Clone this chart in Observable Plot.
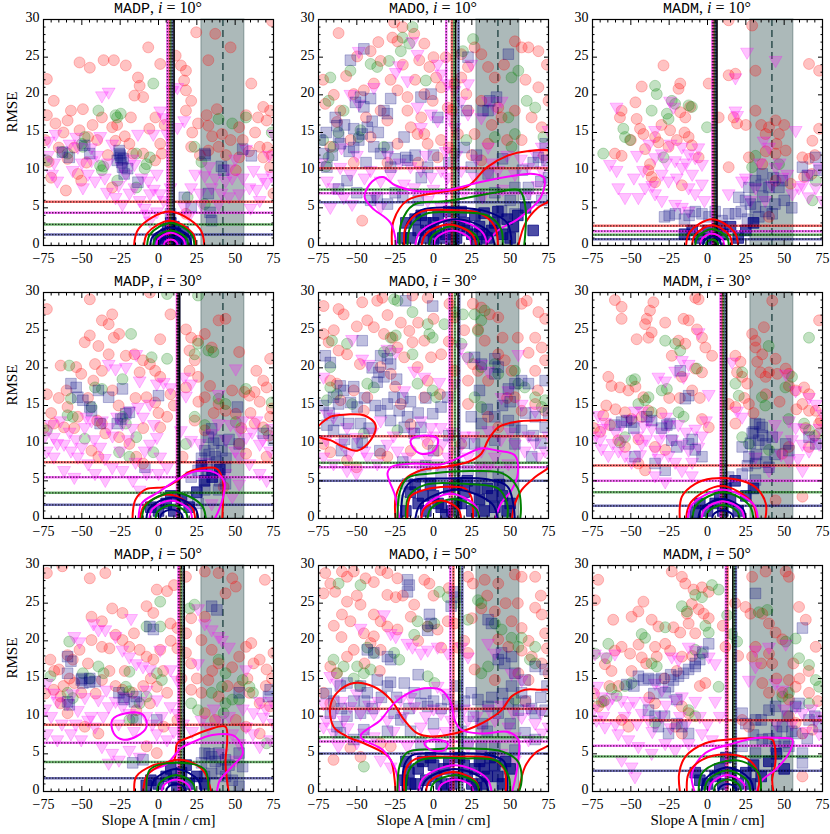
<!DOCTYPE html>
<html><head><meta charset="utf-8">
<script src="https://cdn.jsdelivr.net/npm/d3@7"></script>
<script src="https://cdn.jsdelivr.net/npm/@observablehq/plot@0.6"></script>
<style>
html,body{margin:0;padding:0;background:#fff;}
#fig{position:relative;width:830px;height:834px;overflow:hidden;font-family:'Liberation Serif','DejaVu Serif',serif;}
.ttl{position:absolute;text-align:center;font-size:16px;line-height:18px;white-space:nowrap;color:#000;font-family:'Liberation Serif','DejaVu Serif',serif;}
.ttl .tt{font-family:'Liberation Mono','DejaVu Sans Mono',monospace;font-size:15px;}
</style></head><body><div id="fig"></div>
<script>
// ---------- categories & ticks ----------
const methods = ["MADP", "MADO", "MADM"];
const incls = [10, 30, 50];
const seriesNames = ["red", "magenta", "green", "navy"];
const xDomain = [-75, 75];
const yDomain = [0, 30];
const xMajor = [-75, -50, -25, 0, 25, 50, 75];
const xMinor = [-70, -65, -60, -55, -45, -40, -35, -30, -20, -15, -10, -5, 5, 10, 15, 20, 30, 35, 40, 45, 55, 60, 65, 70];
const yMajor = [0, 5, 10, 15, 20, 25, 30];
const yMinor = [1, 2, 3, 4, 6, 7, 8, 9, 11, 12, 13, 14, 16, 17, 18, 19, 21, 22, 23, 24, 26, 27, 28, 29];
const bandRange = [28, 56];
const bandCenter = 42;

// ---------- reference lines (order: red, magenta, green, navy) ----------
const hl_MADP10 = [5.8, 4.35, 2.8, 1.45];
const hl_MADO10 = [10.26, 6.95, 7.43, 5.75];
const hl_MADM10 = [2.61, 1.9, 1.42, 0.84];
const hl_MADP30 = [7.47, 5.49, 3.41, 1.81];
const hl_MADO30 = [10.93, 6.81, 7.39, 5.0];
const hl_MADM30 = [7.04, 5.0, 3.5, 1.68];
const hl_MADP50 = [8.85, 6.46, 3.9, 1.77];
const hl_MADO50 = [10.97, 6.64, 7.21, 5.04];
const hl_MADM50 = [9.47, 6.06, 4.65, 2.75];

const vl_MADP10 = [7.2, 5.8, 8.2, 9.3];
const vl_MADO10 = [12, 8.3, 13.5, 16.3];
const vl_MADM10 = [4, 3.2, 4.8, 5.6];
const vl_MADP30 = [12.5, 12, 13, 13.5];
const vl_MADO30 = [12, 10.5, 14, 16.8];
const vl_MADM30 = [9.5, 8.5, 10.5, 11.8];
const vl_MADP50 = [14, 13, 15, 16.5];
const vl_MADO50 = [13, 11, 17, 18.8];
const vl_MADM50 = [13, 12, 17.5, 18.5];
const vBlack = {MADP10: 10.2, MADO10: 14.5, MADM10: 6.2, MADP30: 13.8, MADO30: 16, MADM30: 12.5, MADP50: 16.8, MADO50: 16.5, MADM50: 16.5};

// ---------- scatter: MADP 10 ----------
const red_MADP10 = [[-72.8,22.1],[-72.8,17.3],[-71.6,11.1],[-51.5,24.3],[-44.8,23.6],[-35.8,24.6],[-29.1,24.6],[-21.3,23.9],[-13.4,22.3],[-12.3,21.2],[-6.7,26.3],[-15.7,19.9],[-10,19.7],[1.1,24.1],[11.2,25.2],[14.6,23.9],[17.9,23.2],[16.7,21.9],[17.9,20.6],[24.6,28.3],[32.5,24.6],[37,28.1],[47,26.3],[60.5,21.5],[68.3,18.4],[72.8,17.9],[57.1,17.3],[31.4,17.3],[25.8,16.2],[32.5,15.9],[38.1,18.1],[52.6,15.7],[64.9,17],[75,6.9],[68.3,11.7],[66,13.1],[-68.3,19.2],[-67.2,16.2],[-59.3,16.6],[-57.1,17.9],[-49.3,18.1],[-51.5,15.3],[-45.9,14.4],[-59.3,11.5],[-52.6,9.5],[-50.4,8.6],[-60.4,7.3],[-36.9,17],[-30.2,15.7],[-28,13.9],[-19,13.5],[-16.8,12.2],[-10,12.2],[1.1,13.5],[2.2,12.2],[-2.2,11.3],[21.3,19.2],[17.9,17.9],[52.6,11.7],[50.4,10],[21.3,13.1],[32.5,12.6],[39.2,13.1],[41.4,14.8],[70.5,16.6],[72.8,10.4],[-30.2,7.7],[17.9,4.2],[74,29.8],[-74,14],[-70,9],[-65,13],[-62,15],[-55,13],[-47,11],[-43,16],[-40,14],[-33,12],[-27,16],[-22,14.5],[-18,17],[-6,15.5],[-2,17],[4,16],[22,15],[27,12],[35,14.5],[44,12],[47,14],[55,14],[59,12.5],[63,15],[71,13],[74,12]];
const green_MADP10 = [[-3.4,21.5],[-28,17.3],[-24.6,17.5],[-39.2,17.9],[-59.3,12.2],[-62.7,12.4],[-72.8,11.3],[-48.1,14.4],[-49.3,13.1],[-38.1,10.6],[-36.9,10],[-26.9,8.6],[-14.5,12.2],[-9,10.2],[-7.8,10.8],[-14.5,7.7],[28,11.1],[23.5,13.1],[39.2,16.8],[57.1,17],[48.1,16.2],[73.9,15],[30.2,5.5],[19,6.4],[-5.6,11.7],[-50,13.5],[-36,10.5],[-27,17]];
const magenta_MADP10 = [[-32.5,20.4],[-36.9,19.9],[-3.4,14.8],[12.3,21],[9,20.6],[1.1,17.9],[-71.6,13.9],[-67.2,14.8],[-52.6,13.1],[-53.7,14.4],[-66,8.6],[-69.4,9.5],[-49.3,7.7],[-41.4,8.6],[-33.6,7.1],[-28,6.4],[-21.3,9.5],[-15.7,7.7],[-12.3,6],[-6.7,8.6],[-5.6,6.9],[-1.1,9.5],[3.4,17],[5.6,14.8],[12.3,15.7],[16.8,16.6],[-7.8,4.2],[-5.6,3.3],[3.4,6],[21.3,7.7],[30.2,9.3],[34.7,7.7],[43.7,8.6],[52.6,6.9],[59.3,7.7],[66,6],[73.9,9.3],[70.5,8.4],[45.9,10.2],[39.2,5.5],[57.1,12.8],[16.8,5.1],[28,5.5],[7.8,7.7],[1.1,6.9],[-23.5,5.5],[-43.7,11.3],[-30.2,13.5],[-15.7,10.8],[-13.4,14.8],[75,14.8],[-72,12],[-68,11],[-63,12.5],[-58,13.5],[-56,10],[-50,11],[-46,9.5],[-44,13],[-40,12],[-38,14.5],[-35,9],[-33,11],[-26,8],[-24,10.5],[-19,7],[-17,11.5],[-11,9],[-9,5],[-3,7.5],[-1,4.5],[24,9.5],[27,7],[33,10.5],[37,9],[41,7],[48,9],[50,11.5],[55,9],[62,10],[64,7.5],[68,9],[72,12],[46,6.5],[60,5],[20,4]];
const navy_MADP10 = [[-62.7,12.4],[-58.2,11.7],[-48.1,13.3],[-44.8,12.2],[-25.7,12.6],[-24.6,11.7],[-26.9,11.3],[-23.5,10.4],[-20.1,10.2],[-22.4,9.5],[-13.4,8.4],[30.2,12.2],[42.5,10],[54.9,12.8],[60.5,11.9],[16.8,6.4],[21.3,5.1],[32.5,6.9],[33.6,4.4],[34.7,3.3],[7.8,4.2],[-25.5,12.2],[-24,11],[-25,12],[-23,11.5],[30.5,12],[41,10.5]];
const core_MADP10 = [[2,1],[5,1.5],[8,0.8],[11,1.6],[14,1],[6,2.2],[10,2.5],[16,1.8],[0,0.7],[18,0.6],[12,0.4],[8,3]];

// ---------- scatter: MADO 10 ----------
const red_MADO10 = [[-61.9,28.2],[-49.8,25.1],[-41,25.8],[-34.5,24.5],[-26.8,27.6],[-23.5,27.1],[-25.7,29.6],[-20.2,29],[-12.6,28.1],[-6,26.8],[-9.3,24.6],[-2.7,23.7],[1.7,22.3],[5,21],[-0.5,19.2],[-6,20.1],[-17,19.7],[-23.5,20.6],[-38.9,21.5],[-45.4,20.6],[-52,20.1],[-60.8,17.9],[-63,16.4],[-70.6,18.8],[-34.5,17.9],[-30.1,16.6],[-14.8,15.7],[-10.4,14.8],[-6,14.8],[-3.8,13.5],[2.7,11.7],[13.7,21.5],[18.1,22.3],[21.4,20.1],[22.5,23.7],[26.8,26.3],[31.2,25.4],[35.6,23.7],[40,22.3],[42.2,18.3],[44.4,17],[53.1,17.9],[53.1,27.1],[57.5,26.3],[61.9,26.3],[68.4,25.8],[68.4,21],[57.5,14],[70.6,15.7],[75,19.2],[-46.5,3.3],[22.5,17.9],[9.3,18.3],[15.9,14.8],[26.8,14.8],[35.6,13.5],[31.2,11.3],[4.9,14],[-23.5,13.5],[-41,14.4],[-54.2,14],[-67.3,13.1],[-17,17.9],[31.2,19.2],[18.1,25.4],[-72,22],[-65,20],[-57,22.5],[-44,17],[-36,27],[-28,22],[-20,24],[-12,22],[-8,17],[0,25],[8,25],[12,18],[25,12],[38,16],[46,24],[48,14],[60,22],[64,17],[72,12],[74,24],[-52,11],[-30,11],[-10,11],[10,13]];
const green_MADO10 = [[-68.4,19.2],[-67.3,22.3],[-54.2,23.2],[-41,24.1],[-36.7,23.7],[-20.2,27.6],[-15.8,26.8],[-13.7,29],[-21.3,25.8],[-29,24.5],[-5,21.9],[25.8,27.4],[19.2,25.8],[55.3,23.2],[50.9,22.3],[60.8,19.2],[66.3,18.3],[71.7,14.4],[53.1,14.8],[40,14.4],[48.8,17],[-58.6,17.9],[-47.6,15.3],[-48.7,14.4],[-68.4,11.7],[-65.2,13.1],[-32.3,13.1],[21.4,14],[13.7,12.2],[50.9,13.1],[-62,15],[-72,14],[-70,10.5]];
const magenta_MADO10 = [[-48.7,25.8],[-54.2,20.1],[-48.7,18.8],[-38.9,21],[-24.6,23],[-17,21.9],[-22.4,23.9],[-13.7,27.1],[-10.4,25.4],[2.8,24.1],[5,22.8],[9.3,21.5],[13.7,20.6],[22.5,21.5],[24.6,24.1],[18.1,19.2],[22.5,17.5],[-1.6,17.5],[2.7,16.6],[11.5,17],[13.7,15.7],[-8.2,15.7],[-10.4,18.4],[35.6,19.2],[40,18.3],[31.2,17],[44.4,19.2],[35.6,13.1],[66.3,12.2],[70.6,13.1],[75,15.3],[-60.8,10.4],[-54.2,9.5],[-69.5,8.6],[-65.2,7.7],[-58.6,6.4],[-53.1,5.5],[-41,10],[-34.5,8.6],[-27.9,9.5],[-19.2,8.2],[-12.6,7.7],[-8.2,10],[-1.6,9.1],[5,10],[9.3,9.1],[18.1,10],[26.8,9.1],[35.6,9.5],[42.2,10],[53.1,9.5],[61.9,10.4],[70.6,10],[-67.3,5.1],[-34.5,5.1],[-3.8,6],[5,5.1],[-73,11],[-60,13],[-50,12],[-45,9],[-38,6.5],[-30,12],[-22,11],[-15,10.5],[-5,12],[0,7.5],[8,12.5],[15,12],[20,7],[28,11.5],[32,6.5],[38,11],[45,7.5],[48,12],[57,11.5],[62,7],[68,8],[72,11.5]];
const navy_MADO10 = [[-54.2,24.6],[-45.4,26.1],[-47.6,19.7],[-45.4,18.4],[-50.9,19],[-32.3,17.9],[-30.1,17.5],[-41,19.5],[-27.9,19.5],[-64.1,17],[-63,15.9],[-60.8,13.5],[-61.9,14.4],[-48.7,14],[-46.5,14.8],[-52,15.5],[-43.2,15.7],[-19.2,14.4],[-18.1,11.7],[-38.9,13.1],[-34.5,12.2],[-8.2,19.7],[-1.6,20.1],[2.8,17],[21.4,17.9],[22.5,25],[48.8,25.4],[32.3,17.9],[35.6,17.9],[36.7,19.2],[41.1,19.7],[72.8,13.5],[68.4,11.7],[73.9,11.3],[-71.7,12.2],[-69.5,10.4],[-27.9,10.4],[-17,11.3],[-3.8,10.4],[24.6,10.4],[35.6,9.5],[53.1,7.7],[61.9,7.7],[-41,6],[-36.7,6.4],[44.4,4.6],[53.1,4.2],[70.6,6],[-56.4,8.6],[-30,5.5],[-20,6.5],[50,6],[60,6.8],[-74,14],[-70,15],[-66,12],[-58,16],[-55,12.5],[-52,13],[-44,11],[-40,16.5],[-36,15],[-30,13],[-25,11.5],[-12,12],[-8,9],[0,12],[10,11],[20,13],[28,12],[45,11.5],[58,10],[65,11],[70,8.5],[75,9],[-62,7.5],[-50,7],[-25,7],[-10,6],[30,6.5],[40,7]];
const core_MADO10 = [[-15,1],[-10,2],[-5,1],[0,3],[5,1],[10,2.5],[15,1],[20,3],[25,1.5],[30,2.5],[35,1],[40,3],[45,1.5],[-8,4],[18,4.5],[33,4.3],[48,3.5],[0,0.5],[28,0.5],[12,0.8],[-18,3],[55,4],[60,5],[65,2],[-20,1],[-12,3.5],[-2,2],[3,4],[8,1.5],[22,2],[27,4],[38,2],[42,4.5],[50,1],[52,2.5],[2,1.8],[17,2.5],[32,1.5],[-5,3],[10,4.5]];

// ---------- scatter: MADM 10 ----------
const red_MADM10 = [[-28.7,23.9],[-42.9,21.1],[-17.8,21.5],[-18.9,20.8],[-56,17.9],[-57.1,17],[-46.2,16.8],[-44,15.5],[-41.8,14.8],[-34.2,14.4],[-24.4,15.3],[-17.8,17.7],[-14.5,17],[-11.3,18.4],[-12.3,14.4],[-60.4,12.2],[-56,11.9],[-40.7,12.8],[-32,13.7],[-25.4,13.1],[-38.5,10],[-36.4,9.1],[-34.2,8.4],[-37.5,10.8],[-16.7,8],[-10.2,13.3],[-5.8,11.7],[13.8,29.9],[29.1,29.2],[13.8,22.6],[18.2,22.8],[17.1,17],[19.3,16.2],[13.8,10.4],[37.9,14.8],[40.1,15.7],[31.3,17.9],[27,11.7],[35.7,10.8],[44.4,16.6],[46.6,14.8],[51,12.6],[44.4,12.2],[44.4,8.6],[54.2,8.2],[61.9,11.7],[66.2,11.5],[63,9.1],[66.2,24.1],[72.8,23.2],[72.8,15.5],[68.4,13.9],[40.1,3.8],[31.3,23.2],[7.3,17],[0.8,21.5],[-50,14],[-47,19],[-30,16],[-20,14],[-15,15],[25,16],[35,16],[45,13.5],[50,16],[70,12],[68,9.5],[38,12.5]];
const green_MADM10 = [[-68,12.2],[-54.9,15.5],[-53.8,14.4],[-50.5,14],[-34.2,21.2],[-33.1,20.1],[-36.4,17.9],[-26.5,17.5],[-25.4,16.8],[-28.7,11.7],[-12.3,18.6],[-10.2,18.4],[-0.3,15.7],[29.1,10.4],[31.3,11.9],[46.6,10.8],[70.6,8.6],[68.4,6],[-21.1,18.8],[-23.3,19.2]];
const magenta_MADM10 = [[-59.3,18.4],[-63.6,10.8],[-59.3,10],[-58.2,7.7],[-53.8,6.4],[-45.1,6.4],[-40.7,7.7],[-34.2,11.7],[-29.8,12.2],[-24.4,19.2],[-22.2,18.4],[-34.2,15.3],[-16.7,13.1],[-12.3,12.2],[-8,11.7],[-3.6,10.8],[-21.1,11.3],[-16.7,10.4],[-29.8,9.5],[-25.4,8.6],[-34.2,6.9],[-29.8,6],[-21.1,5.5],[-16.7,5.1],[-12.3,7.7],[-8,6.9],[-3.6,8.2],[-12.3,4.6],[18.2,17.9],[19.3,17.3],[18.2,22.3],[25.8,25.7],[44.4,24.6],[57.5,15.3],[36.6,13.9],[40.1,13.1],[44.4,10.4],[48.8,9.1],[55.3,6.9],[59.5,7.7],[37.7,6],[31.3,7.7],[66.2,9.5],[70.6,7.7],[72.8,10.4],[75,6],[13.8,6.9],[22.5,8.6],[-48,9],[-46,12],[-42,10],[-38,13.5],[-36,8],[-27,11],[-24,13.5],[-20,9],[-14,11],[-10,9.5],[-6,13],[-2,6],[25,9],[28,6],[34,11],[42,8],[47,11],[52,9.5],[62,8],[66,6.5]];
const navy_MADM10 = [[-28,3.8],[-21,4.2],[-12,4],[-3.6,4.2],[1,3.8],[9.5,3.3],[18.2,4.2],[24.8,6],[27,7.7],[20.4,6.4],[31.3,8.6],[35.7,9.5],[40.1,7.7],[46.6,7.7],[48.8,8.6],[61.9,10.4],[65.1,9.3],[70.6,11.7],[72.8,10],[33.5,3.8],[42.2,4.2],[13.8,4.2],[31.3,5.1],[-25,4],[-15,3.5],[-8,4.5],[5,4.5],[22,4.5],[28,5.5],[36,6.5],[38,4.5],[44,5.5],[50,6],[55,5],[26,3.5],[35,8],[43,9]];
const core_MADM10 = [[-5,1],[0,2],[5,1],[-10,2],[10,1.5],[15,2.5],[20,1],[25,2],[-15,1.5],[30,3],[3,0.5],[8,2.5]];

// ---------- scatter: MADP 30 ----------
const red_MADP30 = [[-72.8,27.8],[-44.8,29.1],[-36.9,26.3],[-30.2,27.1],[-32.5,25.8],[-44.8,24.3],[-48.1,23.4],[-29.1,24],[-25.7,24.5],[-39.2,22.9],[-41.4,20.5],[-63.8,20.3],[-53.7,20.1],[-50.4,19.2],[-42.5,18.3],[-36.9,19.6],[-32.5,21.8],[-21.3,21.6],[-15.7,21.8],[-10.1,21],[-5.6,20.5],[-12.3,19.4],[-2.2,19.6],[1.1,18.8],[-7.8,16.1],[-2.2,15.4],[7.8,16.5],[-5.6,30],[1.1,23.8],[7.8,27.1],[17.9,25.1],[21.3,24],[25.8,23.6],[34.7,22.7],[30.2,24.5],[39.2,26.3],[43.7,26.5],[20.2,22.3],[23.6,21],[20.2,19.6],[25.8,18.8],[17.9,17.4],[33.6,17.6],[30.2,16.1],[39.2,15.2],[43.7,14.3],[50.4,13.9],[52.6,22.1],[55.9,16.8],[59.3,16.3],[63.8,19.6],[68.3,18.3],[62.7,16.8],[70.5,17.4],[72.8,21.2],[73.9,14.6],[72.8,13.5],[62.7,12.6],[68.3,12.1],[-68.3,12.6],[-61.6,12.1],[-72.8,16.5],[-59.3,14.8],[-52.6,13.5],[-36.9,12.6],[-34.7,11.3],[-43.7,9],[-39.2,8.2],[-25.7,10.8],[-19,9.9],[-14.5,8.2],[-10.1,7.3],[1.1,12.1],[5.6,13.5],[23.6,13],[30.2,11.7],[52.6,9.9],[57.1,8.6],[70.5,8.2],[42.5,4.2],[15.7,8.2],[-75,12],[-70,14],[-65,16],[-60,17],[-55,12],[-46,16],[-40,13],[-30,17],[-26,15],[-15,16],[-10,12],[0,14],[10,15],[26,15.5],[36,14],[48,17],[54,12],[60,14],[66,15.5],[72,11]];
const green_MADP30 = [[5.6,29.8],[25.8,29.6],[-17.9,24.5],[-58.2,20.3],[-4.5,21.4],[5.6,21.2],[23.6,21.8],[32.5,22.3],[35.8,22.1],[25.8,23.2],[-23.5,18.5],[-41.4,17.4],[-36.9,17.2],[-57.1,15.9],[-43.7,14.8],[-59.3,13.7],[-55.9,13.5],[-72.8,11.7],[-48.1,10.6],[-23.5,13.5],[-21.3,12.6],[-14.5,10.8],[-25.7,8.8],[-19,8.2],[-3.4,8.8],[23.6,13.5],[17.9,9.9],[39.2,15.9],[43.7,15.2],[50.4,12.8],[57.1,17.2],[70.5,11.7],[73.9,15.4],[30.2,12.4]];
const magenta_MADP30 = [[-14.5,21.8],[-32.5,20.5],[-28,19.9],[-21.3,20.1],[-12.3,18.3],[-1.1,17.9],[3.4,18.1],[7.8,17.4],[16.8,18.8],[21.3,17.9],[39.2,16.5],[50.4,19.9],[17.9,16.3],[-13.4,14.8],[-10.1,13.5],[-5.6,15.2],[-19,14.3],[-23.5,12.6],[-36.9,13],[-32.5,12.1],[-48.1,12.1],[-43.7,13],[-72.8,9],[-68.3,8.2],[-61.6,9.9],[-57.1,9],[-52.6,8.2],[-45.9,7.3],[-61.6,6.4],[-54.9,5.5],[-41.4,6],[-34.7,5.1],[-30.2,6.8],[-23.5,6.4],[-16.8,5.1],[-12.3,3.8],[-7.8,6],[1.1,8.2],[5.6,6.8],[-5.6,9.9],[-1.1,10.8],[14.6,11.7],[21.3,10.4],[34.7,11.3],[39.2,12.6],[52.6,11.7],[57.1,10.8],[52.6,8.2],[59.3,7.3],[66,9.9],[72.8,9],[66,6],[70.5,5.1],[43.7,6],[52.6,4.6],[48.1,2.9],[34.7,2],[-68.3,10.8],[-74,11],[-70,12.5],[-66,10],[-64,13],[-58,11.5],[-54,10.5],[-50,9.5],[-47,13.5],[-42,10.5],[-38,9.5],[-35,8],[-30,11],[-27,13.5],[-25,9],[-20,10.5],[-17,12],[-15,7.5],[-9,9],[-3,12.5],[0,6],[27,10],[30,7.5],[44,10.5],[47,12.5],[50,9],[55,13],[61,11.5],[64,13],[68,10.5],[74,12]];
const navy_MADP30 = [[-57.1,17.9],[-53.7,17.4],[-52.6,16.1],[-49.3,15.7],[-44.8,14.8],[-43.7,14.3],[-39.2,17],[-32.5,16.1],[-23.5,17.2],[-21.3,13.9],[-19,14.1],[-24.6,13.2],[-26.9,12.6],[0,16.3],[-38.1,12.6],[-8.9,6.8],[51.5,14.8],[34.7,11.9],[32.5,10.8],[39.2,10.4],[30.2,9],[36.9,8.2],[41.4,9],[52.6,9.9],[68.3,11.3],[75,10.4],[34.7,6],[43.7,6.8],[25.8,6.4],[21.3,5.5],[30.2,3.8],[39.2,3.8],[43.7,4.6],[19,2.9],[25.8,2],[28,8],[32,6.5],[36,10],[38,7.5],[44,8],[40,5],[33,8.5],[46,10.5]];
const core_MADP30 = [[0,1],[5,2],[10,1],[15,2.5],[-5,1.5],[20,1.5],[8,3],[25,3.5],[30,5],[35,5.5],[40,6.5],[28,7]];

// ---------- scatter: MADO 30 ----------
const red_MADO30 = [[-71.7,28.2],[-61.9,27.8],[-58.6,27.1],[-46.5,28.7],[-36.7,28.9],[-33.4,29.3],[-13.7,29.6],[-3.8,29.3],[-71.7,24.5],[-68.4,23.4],[-61.9,22.3],[-56.4,21.8],[-43.2,26.3],[-38.9,25.4],[-32.3,24.5],[-26.8,24],[-21.3,26],[-15.8,24.9],[-23.5,22.7],[-19.1,21.4],[-13.7,23.4],[-6,23.6],[-10.4,20.1],[-1.6,21.4],[5,21.8],[10.4,28.5],[13.7,26.7],[25.7,28.5],[31.2,28],[36.7,27.1],[42.2,26.7],[29,25.1],[33.4,23.6],[42.2,21.8],[46.5,21],[50.9,19.6],[57.5,28.5],[60.8,28.9],[68.4,27.4],[72.8,26.5],[66.3,24],[70.6,22.7],[72.8,21],[66.3,19.6],[25.7,20.5],[29,19.6],[22.5,18.3],[35.6,18.3],[35.6,13.5],[42.2,12.1],[22.5,15.2],[-3.8,18.3],[4.2,16.5],[-34.5,20.1],[-27.9,19.2],[-67.3,18.3],[-63,17.9],[-60.8,15.7],[-43.2,16.1],[-45.4,14.3],[-71.7,9.9],[-67.3,8.8],[-56.4,7.7],[-50.2,6.8],[-34.5,8.6],[-30.1,8.2],[-14.8,9],[-3.8,9.9],[2.7,9],[18.1,9.9],[57.5,14.3],[66.3,15.2],[72.8,14.3],[53.1,16.1],[13.7,19.6],[-6,16.1],[-21.3,15.2],[-65,25],[-50,25.5],[-48,20.5],[-30,27],[-10,26],[0,26.5],[20,25],[45,24],[55,24],[62,22],[68,17],[48,16],[-52,17],[-25,17.5],[10,23.5],[-15,12.5]];
const green_MADO30 = [[-25.7,29.1],[-23.5,28.9],[-13.7,27.4],[-27.9,24],[-24.6,24.3],[-32.3,22.1],[-27.9,22.3],[-13.7,21.8],[-2.7,24.5],[-0.5,24],[-3.8,25.8],[7.1,25.8],[13.7,27.4],[19.2,27.1],[26.8,27.1],[31.2,26.3],[29,24.9],[33.4,27.6],[-66.2,23.6],[-56.4,23.2],[-67.3,20.1],[-67.3,17.4],[-63,16.5],[-69.5,15.7],[-53.1,15.2],[-43.2,17.9],[-38.9,17.4],[-10.4,17.9],[-0.5,17],[1.7,16.1],[18.1,23.2],[22.5,21.4],[31.2,20.1],[40,20.5],[42.2,19.2],[53.1,19.6],[55.3,17.9],[59.5,17.4],[66.3,16.1],[70.6,14.8],[72.8,15.7],[26.8,16.1],[31.2,14.8],[-23.5,11.7],[-45.4,11.3],[-21.3,2.4]];
const magenta_MADO30 = [[-53.1,23.8],[-46.5,21.2],[-42.2,20.5],[-71.7,18.8],[-30.1,22.5],[-24.6,22.1],[-19.1,17],[-12.6,19.6],[-6,18.8],[3.8,18.1],[18.1,22.7],[21.4,21.4],[13.7,17.9],[31.2,20.5],[35.6,19.6],[44.4,16.1],[48.8,17],[55.3,21.8],[57.5,15.2],[66.3,14.3],[-69.5,13.9],[-65.2,13.5],[-56.4,12.1],[-50.2,10.8],[-71.7,8.2],[-65.2,7.3],[-56.4,6.4],[-50.2,6],[-43.2,8.2],[-36.7,7.3],[-30.1,9.9],[-23.5,9],[-17,8.2],[-10.4,7.3],[-3.8,8.2],[2.7,7.3],[9.3,8.2],[15.9,9],[22.5,8.2],[31.2,9],[40,8.2],[48.8,7.3],[53.1,9.9],[59.5,9],[68.4,8.2],[72.8,9],[-8.2,13],[-1.6,12.1],[4.9,12.1],[-34.5,13],[35.6,11.7],[-60,10],[-45,9],[-40,11.5],[-26,11],[-14,11.5],[-5,10.5],[0,11],[6,10],[12,11.5],[20,11],[26,11],[30,7],[36,7],[44,10.5],[50,11.5],[62,11],[66,10],[75,11],[-70,10.5],[-55,8.5]];
const navy_MADO30 = [[-18.1,28.9],[-0.5,28.2],[-46.5,23.6],[-70.6,21.6],[-67.3,20.7],[-34.5,21.6],[-30.1,21.2],[-27.9,20.5],[-35.6,19.4],[-32.3,18.8],[-36.7,18.1],[-60.8,17.6],[-58.6,17],[-65.2,16.1],[-61.9,15.2],[-54.2,15.4],[-49.8,14.8],[-55.3,12.6],[-47.6,12.6],[-69.5,12.4],[-65.2,11.7],[-49.8,9.9],[-46.5,10.1],[-34.5,14.3],[-30.1,15.2],[-25.7,16.1],[-22.4,14.3],[-17,13.5],[-19.1,12.1],[-12.6,11.3],[-8.2,12.1],[-0.5,13.9],[4.9,14.8],[9.3,16.1],[26.8,21.4],[31.2,20.5],[40,21.2],[42.2,20.1],[40,19.2],[48.8,17.2],[53.1,17.9],[57.5,18.3],[61.9,17.9],[72.8,18.3],[24.6,13.5],[31.2,12.6],[40,13.5],[48.8,13],[53.1,12.1],[57.5,11.7],[66.3,13.5],[72.8,12.1],[40,10.4],[53.1,9.9],[26.8,9.9],[64.1,8.2],[13.7,6.4],[22.5,6.4],[31.2,5.5],[42.2,5.5],[4.9,6],[-8.2,5.5],[-17,4.6],[-72,15],[-68,14],[-62,13],[-58,10.5],[-52,17.5],[-45,16],[-42,12],[-40,20],[-38,15],[-28,13],[-24,18.5],[-20,16],[-15,15.5],[-10,14],[-5,16],[30,17],[35,14.5],[45,15],[50,15.5],[60,14],[65,11],[70,10],[75,14],[20,10],[10,11],[0,9],[-5,7],[-20,7.5],[-35,9],[-60,9]];
const core_MADO30 = [[-10,2],[-5,1],[0,3],[5,1.5],[10,4],[15,2],[20,3.5],[25,1],[30,2.5],[35,4],[40,1.5],[45,3],[-15,3.5],[50,2],[8,0.5],[22,5],[-18,1],[-12,4.5],[-2,4.5],[3,2],[12,1],[18,2],[27,4],[33,1],[38,3],[43,4.5],[48,1],[-7,3],[15,4.5]];

// ---------- scatter: MADM 30 ----------
const red_MADM30 = [[-60.4,29],[-56,28.1],[-35.3,28.7],[-37.5,27.6],[-8,29.3],[-5.8,29.1],[-56,26.5],[-39.6,26.5],[-40.7,25.8],[-36.4,24.7],[-38.5,24],[-46.2,23.8],[-27.6,26],[-15.6,26.5],[-12.3,26.3],[-18.9,23.6],[-14.5,23.2],[-6.9,25.1],[-3.6,24],[-1.4,22.7],[3,21.6],[-8,19.9],[-3.6,19.4],[-16.7,18.8],[-23.3,21.6],[-64.7,18.8],[-62.6,17.6],[-57.1,17.4],[-51.6,17],[-41.8,16.1],[-38.5,14.3],[-68,13.7],[-63.6,12.4],[-53.8,14.1],[-49.5,13.2],[-58.2,10.4],[-53.8,9.5],[-42.9,13.5],[-34.2,9.5],[-27.6,9.1],[-45.1,7.3],[-40.7,6.4],[-3.6,13.2],[0.8,12.1],[18.2,21.6],[21.5,20.8],[19.3,19.4],[22.6,18.8],[25.9,17.9],[18.2,14.8],[29.1,24.5],[31.3,23.6],[31.3,22.7],[35.7,21.8],[36.8,25.4],[42.2,28.9],[32.4,20.8],[34.6,19.4],[37.9,18.8],[40.1,19.4],[44.4,21.2],[45.5,19.2],[51,19.9],[53.1,19.2],[53.1,17.6],[57.5,17],[63,17.4],[66.2,16.5],[61.9,15.2],[66.2,14.3],[72.8,26.3],[70.6,14.3],[72.8,12.6],[66.2,9.5],[48.8,8.6],[53.1,9.5],[44.4,2.4],[61.9,2.9],[27,15.2],[13.8,15.2],[18.2,12.6],[-74,12],[-70,11.5],[-66,15],[-60,14.5],[-47,17.5],[-45,10.5],[-30,14],[-25,16],[-18,16],[-10,17],[-5,16],[24,16],[30,14],[38,16.5],[47,15.5],[58,14.5],[64,12],[70,11],[74,13]];
const green_MADM30 = [[-21.1,23.2],[-17.8,22.3],[-27.6,23.6],[-6.9,19.9],[-29.8,17],[-26.5,17.2],[-38.5,16.1],[-40.7,15.7],[-45.1,15.2],[-49.5,18.3],[-47.3,18.5],[-18.9,14.1],[-15.6,13.5],[-36.4,14.1],[-57.1,10.1],[-53.8,10.8],[18.2,17.9],[22.6,19.4],[20.4,16.3],[35.5,16.1],[37.7,15],[39.9,22.9],[50.8,17.4],[55.1,18.8],[52.9,13.2],[66.2,24],[63,12.6],[66.2,11.7],[72.8,11.3],[22.6,10.8],[27,9.9],[40.1,9.1]];
const magenta_MADM30 = [[-71.3,13.7],[-66.9,12.8],[-69.1,9.3],[-64.7,8.4],[-56,12.4],[-50.5,13.2],[-53.8,8.4],[-49.5,7.5],[-41.8,12.4],[-36.4,12],[-42.9,9.9],[-34.2,9.1],[-29.8,11.5],[-25.4,12.4],[-25.4,8.4],[-21.1,7.5],[-16.7,9.9],[-12.3,9.1],[-8,11.9],[-3.6,11],[-34.2,5.7],[-27.6,4.9],[-16.7,6.4],[-10.2,5.7],[-32,18.8],[-27.6,18.3],[-21.1,19.6],[-15.6,18.8],[-5.8,24.7],[-16.7,21],[-12.3,20.5],[0.8,16.5],[-47.3,14.3],[-42.9,14.3],[16,20.8],[19.3,14.3],[22.6,13.5],[51,19.2],[57.5,17],[66.2,16.1],[70.6,15.2],[53.1,13],[57.5,12.1],[61.9,9.9],[66.2,9],[72.8,9.9],[53.1,7.7],[61.9,6.4],[31.3,8.2],[40.1,6.4],[75,13.9],[-73,11],[-70,10.5],[-68,12],[-62,10],[-60,11.5],[-58,9],[-55,10.5],[-46,11],[-44,8.5],[-40,10.5],[-38,13],[-32,8],[-31,10.5],[-27,13.5],[-23,10.5],[-19,12.5],[-14,11.5],[-10,7.5],[-6,9.5],[-1,13],[45,11],[48,8.5],[55,10.5],[59,8],[63,12],[69,10.5],[73,12],[44,12.5]];
const navy_MADM30 = [[-60.4,12.4],[-56,12.8],[-52.7,13],[-49.5,12.8],[-26.5,12.4],[-24.4,12.6],[-14.5,15.9],[-12.3,16.3],[-17.8,19.6],[-39.6,13.5],[-36.4,13],[-23.3,10.4],[-12.3,9.9],[-8,9.1],[-3.6,8.2],[-34.2,7.3],[-27.6,6.4],[-47.3,8.2],[31.3,12.6],[35.7,12.1],[29.1,11.3],[33.5,10.4],[37.9,9.9],[42.2,10.8],[22.6,9.5],[27,8.2],[31.3,7.3],[40.1,6.8],[51,9.9],[53.1,9],[66.2,10.8],[70.6,9.9],[22.6,5.9],[31.3,5.1],[13.8,5.5],[30,11.5],[34,12.5],[28,10],[36,11],[32,8.5],[38,7.5],[26,7],[44,8.5],[-48,12],[-30,12],[-20,9.5],[-10,10.5]];
const core_MADM30 = [[0,1],[5,2],[10,1],[-5,2],[15,2.5],[20,1],[8,3],[25,3],[-8,0.8],[12,4],[30,4],[18,5]];

// ---------- scatter: MADP 50 ----------
const red_MADP50 = [[-72.8,29],[-62.7,29.9],[-44.8,28.3],[-34.7,29],[-1.1,26.8],[5.6,26.6],[10.1,27.4],[17.9,28.5],[30.2,29.2],[39.2,29],[48.1,28.3],[50.4,27.2],[43.7,26.3],[69.4,28.1],[-43.7,23.2],[-36.9,22.6],[-30.2,24.3],[-23.5,23.7],[-7.8,24.6],[-3.4,23.7],[7.8,22.3],[12.3,21.7],[21.3,23],[30.2,23.2],[12.3,19],[-28,20.8],[-23.5,20.1],[-43.7,20.1],[-59.3,18.1],[-55.9,17.5],[-51.5,18.8],[-36.9,19.2],[-19,19.2],[-12.3,18.8],[-7.8,17.9],[-3.4,17.5],[1.1,18.8],[17.9,18.4],[21.3,17],[34.7,18.8],[39.2,17],[28,20.1],[52.6,17.9],[57.1,19.2],[60.5,19.7],[66,17.5],[70.5,16.2],[75,18.4],[-70.5,17.5],[-64.9,16.2],[-68.3,13.5],[-63.8,12.6],[-54.9,14.4],[-50.4,13.1],[-36.9,14.8],[-23.5,13.5],[-16.8,13.1],[-14.5,10.8],[-5.6,11.7],[-1.1,13.9],[5.6,13.1],[21.3,13.5],[28,13.1],[32.5,14.8],[39.2,12.6],[52.6,13.9],[59.3,13.1],[66,11.7],[72.8,11.3],[50.4,9.5],[57.1,8.6],[66,7.7],[30.2,10.4],[36.9,9.5],[12.3,9.5],[3.4,8.6],[-48.1,8.6],[-39.2,7.7],[-59.3,10.4],[-63.8,11.7],[-7.8,6],[-1.1,5.1],[-74,13],[-68,16],[-62,14],[-58,15],[-46,17],[-41,13],[-32,16],[-28,14],[-22,16],[-10,14],[-5,15],[3,16],[15,15],[25,15],[35,16],[45,14],[48,16.5],[58,15],[62,17],[70,14],[74,15],[8,20],[18,21],[-16,21],[-32,19]];
const green_MADP50 = [[1.1,25.2],[23.5,24.8],[20.2,24.3],[-58.2,19.9],[-19,15.9],[-7.8,21.9],[1.1,21.9],[-70.5,15.3],[-39.2,16.6],[-35.8,15.7],[-49.3,15.7],[-44.8,15],[-59.3,13.1],[-55.9,12.4],[-21.3,13.9],[-19,13.3],[-12.3,11.7],[-7.8,12.6],[-1.1,15.7],[2.2,14.8],[39.2,17.5],[43.7,15.7],[34.7,13.1],[41.4,13.9],[43.7,11.7],[48.1,12.2],[42.5,10.4],[54.9,14.8],[59.3,13.9],[52.6,12.2],[21.3,11.7],[25.8,10.8],[-19,9.5],[-16.8,9.7],[70.5,6.4],[61.6,13.1]];
const magenta_MADP50 = [[-54.9,20.6],[-51.5,19.9],[-42.5,22.3],[-39.2,21.5],[-34.7,21.5],[-28,20.6],[-17.9,23],[-23.5,18.8],[-19,17.9],[-14.5,17],[-10.1,16.6],[-5.6,16.2],[1.1,18.8],[7.8,16.2],[12.3,14.8],[25.8,24.3],[30.2,22.3],[34.7,21.5],[39.2,20.6],[41.4,20.1],[45.9,19.2],[25.8,17],[57.1,16.2],[-72.8,14.4],[-68.3,13.1],[-59.3,11.7],[-52.6,10.8],[-39.2,12.2],[-32.5,11.3],[-23.5,11.3],[-19,10.4],[-7.8,13.5],[-1.1,12.2],[-72.8,7.7],[-66,6.9],[-57.1,7.7],[-50.4,6.9],[-45.9,9.5],[-41.4,8.6],[-36.9,6],[-30.2,5.1],[-32.5,3.8],[-25.8,4.2],[-19,5.5],[-12.3,4.6],[-1.1,7.7],[5.6,6.9],[7.8,11.3],[12.3,10.4],[28,9.5],[32.5,8.6],[48.1,7.7],[52.6,6.4],[57.1,8.6],[61.6,7.7],[66,6],[72.8,6.9],[68.3,9.9],[75,9.1],[41.4,5.1],[50.4,4.2],[-74,11],[-70,10],[-66,12],[-63,9],[-56,13],[-54,9],[-48,12.5],[-44,10],[-36,10],[-34,13.5],[-28,12],[-26,9],[-21,12.5],[-16,8],[-12,12],[-8,10],[-4,9],[2,10],[10,8],[16,9],[22,8],[36,11],[40,9.5],[46,10],[55,11],[62,10.5],[66,12],[70,11],[74,12]];
const navy_MADP50 = [[-59.3,17.9],[-57.1,17.3],[-59.3,15.7],[-50.4,14.8],[-44.8,15],[-41.4,14.6],[-49.3,14.4],[-59.3,11.9],[-58.2,11.5],[-25.8,13.1],[-22.4,12.2],[-15.7,11.9],[-14.5,12.6],[-14.5,9.5],[-5.6,21.9],[-3.4,21.5],[-1.1,9.5],[-16.8,3.8],[-10.1,4.2],[34.7,24.6],[38.1,24.1],[72.8,13.5],[71.7,12.6],[52.6,13.1],[30.2,5.1],[34.7,4.6],[39.2,5.1],[43.7,4.2],[34.7,2.4],[43.7,2],[48.1,1.5],[52.6,0.7],[28,3.8],[52.6,5.1],[54.9,3.3],[-50,15],[-45,14.5],[-23,12.5],[33,5],[37,4],[41,3],[30,2],[46,3.5]];
const core_MADP50 = [[0,1],[5,2],[10,1.5],[15,2.5],[20,1],[-5,1.5],[25,2],[8,3],[12,0.5],[18,3.5],[-8,0.8],[30,1]];

// ---------- scatter: MADO 50 ----------
const red_MADO50 = [[-70.6,29],[-67.3,27.6],[-59.7,29.2],[-56.4,28.5],[-71.7,26.3],[-64.1,26.5],[-52,29.2],[-44.3,28.3],[-38.9,27.8],[-34.5,29.4],[-30.1,29],[-23.5,28.3],[-6,28.1],[-2.7,27.6],[-12.6,24.8],[-14.8,23.2],[-30.1,26.1],[-24.6,25.8],[-56.4,25.2],[-47.6,24.8],[-59.7,23.5],[-54.2,22.6],[-38.9,23.5],[-34.5,22.6],[-45.4,21],[-38.9,20.6],[-30.1,21.9],[-23.5,21.5],[-3.8,21.9],[2.7,21.5],[9.3,22.6],[13.7,22.3],[5,19.1],[22.5,28.5],[25.7,27.6],[33.4,28.1],[42.2,27.6],[53.1,28.8],[57.5,28.5],[66.3,28.5],[31.2,24.3],[40,23.9],[50.9,22.6],[57.5,21.7],[66.3,24.4],[70.6,23.5],[72.8,21],[42.2,20.2],[48.8,19.2],[57.5,18.7],[64.1,17.9],[70.6,17],[75,15.7],[-67.3,16.6],[-63,15.7],[-56.4,17.9],[-52,18.8],[-41,19.7],[-34.5,18.8],[-71.7,13.1],[-67.3,11.7],[-54.2,5.8],[-47.6,4.6],[-65.2,4.2],[-34.5,6.4],[-27.9,6],[40,14.8],[55.3,15.7],[62,14.8],[15.9,19.1],[22.5,18.4],[26.8,16.2],[-65,22],[-50,26],[-45,17],[-20,26],[-10,20],[0,26],[10,27],[20,20],[35,26],[47,25],[55,25],[62,20],[70,26],[74,19],[-60,20.5],[-35,16],[25,23],[60,12]];
const green_MADO50 = [[-61.9,27.6],[-47.6,27.4],[3.8,26.5],[9.3,25.8],[13.7,25],[29,25.4],[31.2,25],[22.5,22.8],[-10.4,22.6],[-3.8,21.9],[0.5,22.3],[-12.6,20.8],[50.9,20.4],[55.3,19.2],[57.5,20.4],[66.3,19.2],[62.9,17.5],[66.3,17],[40,22.3],[44.4,21.5],[-65.2,17.5],[-58.6,16.6],[-63,15.7],[-49.8,16.6],[-45.4,15.7],[-43.2,19.1],[-38.9,18.4],[-25.7,18.4],[-22.4,17.5],[-3.8,15.3],[0.6,14.4],[-41,16.2],[31.2,15.7],[35.6,16.6],[-45.4,3.3],[53.1,12.2],[-52,15],[-48,14],[-8,4]];
const magenta_MADO50 = [[-47.6,21.7],[-32.3,23.5],[-27.9,21],[-24.6,20.6],[-17,19.7],[-13.7,19.2],[-8.2,18.4],[-3.8,18.8],[2.7,19.2],[9.3,18.4],[18.1,19.2],[22.5,17.9],[35.6,19.7],[40,18.4],[2.7,14],[7.1,13.1],[-67.3,15.3],[-63,14.4],[-71.7,11.7],[-65.2,10.4],[-58.6,9.5],[-71.7,8.6],[-65.2,7.8],[-54.2,11.3],[-47.6,10.4],[-45.4,7.8],[-38.9,7.3],[-38.9,10.4],[-30.1,9.5],[-21.3,12.2],[-12.6,11.3],[-8.2,8.6],[0.5,7.8],[4.9,10.4],[11.5,9.5],[22.5,9.5],[31.2,8.6],[40,9.5],[48.8,8.6],[57.5,9.9],[66.3,9.1],[70.6,7.8],[75,8.6],[53.1,7.3],[62,6.9],[-34.5,4.2],[-27.9,3.3],[-17,6],[-10.4,5.1],[22.5,6],[31.2,5.1],[44.4,5.1],[53.1,4.2],[50.9,15.7],[57.5,14.8],[-70,9.5],[-60,12],[-56,8.5],[-50,13],[-42,11.5],[-36,12],[-26,8],[-20,10],[-15,12.5],[-5,10],[0,11],[8,8],[15,11],[20,11],[28,10],[36,11],[44,11.5],[52,10.5],[62,11],[70,10.5],[-62,6],[-50,6.5]];
const navy_MADO50 = [[-17,28.1],[-15.8,27.4],[-17,26.5],[-2.7,23.5],[-1.6,22.3],[-3.8,21.4],[11.5,24.6],[13.7,26.5],[14.8,25.8],[35.6,22.8],[37.8,22.3],[44.4,18.4],[50.9,17.9],[42.2,17.5],[46.5,17],[53.1,15.7],[59.7,14.8],[66.3,16.6],[72.8,16.2],[50.9,14],[57.5,13.1],[48.8,11.7],[55.3,10.8],[35.6,11.3],[42.2,10.4],[24.6,13.1],[29,12.2],[66.3,10.4],[72.8,10.8],[-43.2,18.8],[-38.9,18.4],[-30.1,17.9],[-27.9,17.5],[-60.8,14],[-56.4,14.4],[-47.6,14],[-43.2,13.1],[-56.4,10],[-47.6,10.4],[-36.7,14.8],[-30.1,14],[-19.1,14.4],[-12.6,13.1],[-8.2,11.7],[-3.8,11.3],[9.3,12.2],[13.7,11.3],[-25.7,10.4],[-21.3,9.5],[-67.3,10.4],[-63,8.6],[-60.8,7.8],[-52,6.9],[-45.4,8.2],[-8.2,6.4],[4.9,6],[22.5,6.4],[31.2,6],[40,6],[53.1,5.5],[59.7,7.8],[66.3,6.9],[-70,13],[-65,12],[-60,11],[-52,12],[-45,12],[-40,11],[-34,12.5],[-28,14.5],[-24,12.5],[-16,11],[-10,15.5],[-5,13],[0,12],[5,11],[15,14],[20,12],[26,10],[32,9],[38,12.5],[45,13],[60,12],[64,11],[70,12.5],[74,14],[-30,8],[-15,8],[0,9],[18,8],[35,8],[50,9]];
const core_MADO50 = [[-15,1],[-10,3],[-5,1.5],[0,3.5],[5,1],[10,4],[15,2],[20,3.5],[25,1],[30,4],[35,2],[40,3.5],[45,1],[-18,4],[50,3],[8,0.5],[28,0.5],[-2,4.5],[-20,1.5],[-12,1],[-7,4],[2,2],[7,3],[12,1],[17,4.5],[22,2],[27,3],[32,1],[37,4.5],[42,2],[47,4],[-16,2.5],[33,3]];

// ---------- scatter: MADM 50 ----------
const red_MADM50 = [[-71.3,28.1],[-73.4,25.4],[-61.5,22.8],[-41.8,25.2],[-45.1,23.9],[-49.5,23.2],[-36.4,22.8],[-32,21.9],[-23.3,29.2],[-16.7,28.5],[-14.5,27.6],[-9.1,26.8],[-3.6,27.1],[0.8,26.5],[-10.2,24.9],[-5.8,24.2],[-13.4,23.6],[-12.3,22.3],[-2.5,23.6],[0.8,23],[-22.2,21.8],[-17.8,21.1],[-27.6,19.6],[-24.4,18.7],[-60.4,18.7],[-56,19.2],[-50.5,18.3],[-42.9,17.8],[-66.9,16.9],[-62.6,16],[-49.5,16],[-34.2,19.2],[-33.1,17.9],[-16.7,17.9],[29.1,28.5],[37.9,29.2],[51,29.2],[53.1,28.5],[24.8,24.5],[28,23.6],[35.7,23.6],[40.1,22.3],[44.4,21.1],[48.8,20.2],[31.3,19.2],[29.1,17.9],[40.1,18.3],[42.2,17],[59.7,24.5],[64.1,22.8],[70.6,19.2],[53.1,14.8],[57.5,13.9],[35.7,14.4],[40.1,13.1],[48.8,13.1],[53.1,12.2],[66.2,13.1],[53.1,10],[57.5,9.1],[22.6,9.5],[27,8.6],[61.9,7.7],[68.4,8.2],[-71.3,11.3],[-68,11.9],[-56,9.5],[-51.6,8.6],[-34.2,11.7],[-21.1,8.6],[-16.7,7.7],[-16.7,11.3],[-12.3,10.4],[-1.4,14.4],[61.9,2],[11.7,19.2],[-74,13],[-64,14],[-58,14],[-45,19.5],[-40,17],[-38,12.5],[-28,15],[-20,16],[-8,21],[-5,14],[20,18],[35,17],[45,15],[56,17],[60,15],[66,16],[72,12],[-10,18],[10,22],[18,25]];
const green_MADM50 = [[-73.4,18.3],[-65.8,17.7],[-64.7,19.6],[-42.9,20.9],[-40.7,20.4],[-27.6,21.8],[-16.7,24.6],[-13.4,23.9],[-8,26.1],[-3.6,25.8],[2.9,27.4],[7.3,26.8],[-1.4,22],[0.8,21.1],[-8,18.8],[-3.6,18.3],[-36.4,17],[-33.1,16.6],[-53.8,14],[-49.5,14.4],[-62.6,13.6],[-59.3,12.7],[-69.1,11.9],[-66.9,12.1],[12.8,23.4],[16,20.9],[19.3,19.9],[33.5,23.8],[39,24.1],[51,19.9],[57.5,20.3],[59.7,17.7],[66.2,16.8],[70.6,14.8],[72.8,13.9],[48.8,12.6],[53.1,13.1],[66.2,11.7],[-12.3,10.8],[-8,10],[7.3,13.9],[-34.2,9.1]];
const magenta_MADM50 = [[-73.4,18.3],[-66.9,17.9],[-60.4,18.3],[-69.1,12.6],[-64.7,11.7],[-56,12.1],[-51.6,11.3],[-72.4,9.5],[-66.9,8.6],[-58.2,7.7],[-51.6,6.9],[-42.9,10.4],[-38.5,9.5],[-34.2,14.4],[-29.8,13.5],[-23.3,17.9],[-18.9,17.5],[-12.3,19.2],[-8,18.8],[0.8,17.9],[5,17],[-21.1,12.2],[-16.7,12.6],[-45.1,6],[-36.4,5.1],[-27.6,6.4],[-21.1,5.5],[-3.6,7.7],[3,6.9],[-12.3,6.4],[-56,4.2],[-49.5,3.3],[-47.3,2],[31.3,18.8],[40.1,19.2],[31.3,16.6],[51,19.6],[44.4,14.4],[48.8,13.5],[57.5,11.3],[61.9,10.4],[70.6,9.5],[72.8,7.7],[27,14.8],[-74,11],[-72,14],[-68,10],[-62,12.5],[-60,9],[-54,10],[-48,12],[-46,9],[-40,12],[-36,8],[-30,10],[-27,11.5],[-24,8.5],[-18,10],[-14,9],[-8,12],[-5,10],[0,9],[5,12],[8,10],[45,9],[50,11],[55,9],[64,8],[68,11],[74,10]];
const navy_MADM50 = [[-52.7,14.2],[-45.1,15.3],[-41.8,14.8],[-38.5,15],[-34.2,14.8],[-25.4,13.9],[-22.2,14.8],[-18.9,15.3],[-15.6,15.7],[-12.3,16.2],[-8,16.6],[-27.6,13.1],[-38.5,10.8],[-34.2,10],[-8,17],[0.8,19.6],[-20,12.2],[-32,8.6],[-25.4,7.7],[-16.7,8.6],[-12.3,7.7],[31.3,26.3],[61.9,21.7],[40.1,10.8],[44.4,11.3],[57.5,11.3],[59.7,11.7],[22.6,10.4],[31.3,9.5],[48.8,8.6],[57.5,7.7],[66.2,9.5],[72.8,8.6],[35.7,6.9],[44.4,6],[53.1,6],[61.9,5.1],[61.9,3.8],[22.6,6],[31.3,5.1],[-48,14],[-30,15],[-24,15.5],[-35,13],[-28,10],[-20,9],[-5,17.5],[-3,18.5],[25,9],[35,9.5],[45,8],[52,10],[40,7],[30,7.5],[50,6.5],[55,8],[65,7],[70,10]];
const core_MADM50 = [[0,1],[5,2],[10,1],[15,2.5],[-5,1.5],[20,1],[25,2.5],[8,3],[30,3.5],[35,2],[40,4],[45,5],[50,3],[12,4.5],[-8,2.5],[28,1]];

// ---------- density contours: [series, closed, points] ----------
const cont_MADP10 = [
  ["red",0,[[-16,-0.3],[-12.9,2.25],[7,4.5],[26.9,2.25],[30,-0.3]]],
  ["red",0,[[-9.5,-0.3],[-7.2,1.65],[7.5,3.3],[22.2,1.65],[24.5,-0.3]]],
  ["green",0,[[-7.5,-0.3],[-5.4,1.5],[8,3],[21.4,1.5],[23.5,-0.3]]],
  ["navy",0,[[-5.5,-0.3],[-3.7,1.2],[8,2.4],[19.7,1.2],[21.5,-0.3]]],
  ["green",0,[[-3.5,-0.3],[-2,1],[8,2],[18,1],[19.5,-0.3]]],
  ["magenta",0,[[-1.5,-0.3],[-0.2,0.85],[8,1.7],[16.2,0.85],[17.5,-0.3]]],
  ["navy",0,[[0.5,-0.3],[1.5,0.6],[8,1.2],[14.5,0.6],[15.5,-0.3]]],
  ["magenta",0,[[3.5,-0.3],[4.1,0.4],[8,0.8],[11.9,0.4],[12.5,-0.3]]]
];
const cont_MADO10 = [
  ["red",0,[[-27,-0.3],[-26,3.3],[-17,6],[5,7.1],[22,7.8],[35,10.4],[48,11.9],[61,12.5],[78,12.4],[82,9],[78,6.3],[68,5],[60,3],[55,-0.3]]],
  ["magenta",0,[[-24,-0.3],[-28,3],[-40,5],[-45,6.5],[-40,8.5],[-33,9.1],[-25,8],[-10,7.2],[10,7.4],[30,8.4],[50,9.2],[65,9.5],[72,9],[70,6.4],[55,3.5],[42,2],[33,-0.3]]],
  ["green",0,[[-22,-0.3],[-21,3],[-13,5.4],[9,5.9],[40,7],[56,7.3],[60,5],[59,-0.3]]],
  ["navy",0,[[-19,-0.3],[-17,3],[-8,4.7],[15,5],[35,4.5],[48,3],[51,-0.3]]],
  ["red",0,[[-19,-0.3],[-18,2.5],[-8,4.5],[10,4.7],[30,4.3],[40,2.5],[42,-0.3]]],
  ["green",0,[[-17,-0.3],[-15,2.5],[-5,4.2],[14,4.4],[35,4],[44,2.2],[45,-0.3]]],
  ["magenta",0,[[-12,-0.3],[-8.9,1.75],[11.5,3.5],[31.9,1.75],[35,-0.3]]],
  ["navy",0,[[-10,-0.3],[-6.7,1.75],[15,3.5],[36.7,1.75],[40,-0.3]]],
  ["green",0,[[-3,-0.3],[-0.8,1.3],[13.5,2.6],[27.8,1.3],[30,-0.3]]],
  ["red",0,[[-8,-0.3],[-5,1.5],[10,2.8],[25,1.5],[28,-0.3]]],
  ["magenta",0,[[0,-0.3],[1.7,1],[12.5,2],[23.3,1],[25,-0.3]]]
];
const cont_MADM10 = [
  ["red",0,[[-14,-0.3],[-11.7,1.75],[3,3.5],[17.7,1.75],[20,-0.3]]],
  ["red",0,[[-10,-0.3],[-8.3,1.35],[3,2.7],[14.3,1.35],[16,-0.3]]],
  ["green",0,[[-8,-0.3],[-6.5,1.1],[3,2.2],[12.5,1.1],[14,-0.3]]],
  ["magenta",0,[[-5,-0.3],[-3.9,0.8],[3,1.6],[9.9,0.8],[11,-0.3]]],
  ["navy",0,[[-3,-0.3],[-2.2,0.6],[3,1.2],[8.2,0.6],[9,-0.3]]],
  ["green",0,[[-1,-0.3],[-0.5,0.4],[3,0.8],[6.5,0.4],[7,-0.3]]]
];
const cont_MADP30 = [
  ["red",0,[[-17,-0.3],[-15,2.5],[-8,3.9],[5,4.2],[12,5],[20,6.2],[30,6.7],[38,6.6],[42,5],[42,2],[41.5,-0.3]]],
  ["magenta",0,[[-13,-0.3],[-11,2],[0,3.5],[15,5.5],[25,6.3],[37,6.1],[43,4.8],[41,2],[36,-0.3]]],
  ["red",0,[[-12,-0.3],[-9.6,1.6],[6,3.2],[21.6,1.6],[24,-0.3]]],
  ["green",0,[[-11,-0.3],[-8.2,1.75],[10,3.5],[28.2,1.75],[31,-0.3]]],
  ["navy",0,[[-8,-0.3],[-5.7,1.4],[9,2.8],[23.7,1.4],[26,-0.3]]],
  ["magenta",0,[[-6,-0.3],[-4.1,1.2],[8,2.4],[20.1,1.2],[22,-0.3]]],
  ["green",0,[[-2,-0.3],[-0.6,0.9],[8.5,1.8],[17.6,0.9],[19,-0.3]]],
  ["navy",0,[[1,-0.3],[2,0.6],[8.5,1.2],[15,0.6],[16,-0.3]]]
];
const cont_MADO30 = [
  ["red",1,[[-77,11.7],[-67.3,13.5],[-56.4,13.8],[-45.4,13.7],[-37.8,12.4],[-41,10.4],[-49.8,9],[-58.6,9.5],[-67.3,10.4],[-77,11]]],
  ["red",0,[[-24.6,-0.3],[-24.6,2.9],[-19.2,5.1],[-8.2,6.4],[5,6.8],[22.5,7.5],[31.2,8.6],[35.6,10.4],[42.2,12.1],[53.1,12.8],[66.3,13],[78,12.8],[82,10],[78,7.3],[66.3,5.5],[57.5,3.8],[53.1,2],[51,-0.3]]],
  ["magenta",1,[[-14.8,10.4],[-8.2,11],[2.7,10.6],[0.6,9],[-8.2,8.6],[-13.7,9.5]]],
  ["magenta",0,[[-22,-0.3],[-25,3],[-30,6],[-27,6.9],[-12,7.3],[5,7.2],[18,8.2],[31,9.3],[42,9],[53,8.4],[55,6],[51,3.8],[44,2],[40,-0.3]]],
  ["green",0,[[-23.5,-0.3],[-22,3.5],[-17,5.4],[0,6],[25,6.3],[45,6],[55,4],[57,1.5],[56.4,-0.3]]],
  ["navy",0,[[-21,-0.3],[-19.5,3.5],[-14,5],[5,5.3],[35,5.2],[48,4.3],[52,2],[53,-0.3]]],
  ["green",0,[[-18,-0.3],[-16,3],[-5,4.5],[20,4.6],[42,4],[48,2],[48,-0.3]]],
  ["red",0,[[-17,-0.3],[-15,2.9],[-6,3.8],[9.3,4.2],[20.3,4],[24.6,2.9],[25.7,-0.3]]],
  ["navy",0,[[-12,-0.3],[-8.4,1.9],[15,3.8],[38.4,1.9],[42,-0.3]]],
  ["magenta",0,[[-8,-0.3],[-5.5,1.65],[11,3.3],[27.5,1.65],[30,-0.3]]],
  ["green",0,[[-4,-0.3],[-1.7,1.3],[13,2.6],[27.7,1.3],[30,-0.3]]],
  ["red",0,[[-8,-0.3],[-6.3,1.2],[5,2.4],[16.3,1.2],[18,-0.3]]]
];
const cont_MADM30 = [
  ["red",0,[[-18,-0.3],[-16.7,2.9],[-8,4.6],[3,5.3],[18,5.2],[31,4.2],[38,2],[37.5,-0.3]]],
  ["red",0,[[-14,-0.3],[-10.9,2.15],[9,4.3],[28.9,2.15],[32,-0.3]]],
  ["magenta",0,[[-13,-0.3],[-9.9,1.9],[10,3.8],[29.9,1.9],[33,-0.3]]],
  ["green",0,[[-10,-0.3],[-7.3,1.75],[10,3.5],[27.3,1.75],[30,-0.3]]],
  ["navy",0,[[-6,-0.3],[-3.9,1.3],[9.5,2.6],[22.9,1.3],[25,-0.3]]],
  ["magenta",0,[[-4,-0.3],[-2.1,1.15],[10,2.3],[22.1,1.15],[24,-0.3]]],
  ["green",0,[[-1,-0.3],[0.5,0.9],[10,1.8],[19.5,0.9],[21,-0.3]]],
  ["navy",0,[[3,-0.3],[3.9,0.55],[10,1.1],[16.1,0.55],[17,-0.3]]]
];
const cont_MADP50 = [
  ["magenta",1,[[-30.2,9.5],[-21.3,10.4],[-10.1,10.2],[-7.8,8.6],[-14.5,7.3],[-23.5,6.9],[-29.1,7.7]]],
  ["red",0,[[-15.7,-0.3],[-14.5,2],[-3.4,3.5],[10.1,4.2],[12.3,6.4],[21.3,7.3],[32.5,8.2],[43.7,8.6],[44.8,6.9],[43.7,3.8],[45.9,-0.3]]],
  ["magenta",0,[[-8,-0.3],[-6,2.5],[5,3.6],[15,5.8],[22,6.5],[35,7.5],[50,7.3],[55,5.1],[48,3.3],[40,1.5],[38,-0.3]]],
  ["red",0,[[-10.1,-0.3],[-8,2],[-3.4,2.9],[12.3,4.2],[25,3.5],[30.2,2.5],[34.7,-0.3]]],
  ["green",0,[[-7.8,-0.3],[-5.6,2.9],[12.3,3.8],[30.2,2.9],[32.5,-0.3]]],
  ["navy",0,[[-5,-0.3],[-2.8,1.5],[11.5,3],[25.8,1.5],[28,-0.3]]],
  ["green",0,[[-1,-0.3],[0.7,1.1],[11.5,2.2],[22.3,1.1],[24,-0.3]]],
  ["magenta",0,[[2,-0.3],[3.3,0.8],[11.5,1.6],[19.7,0.8],[21,-0.3]]],
  ["navy",0,[[5,-0.3],[5.9,0.5],[11.5,1],[17.1,0.5],[18,-0.3]]]
];
const cont_MADO50 = [
  ["red",0,[[-24.6,-0.3],[-27.9,4.2],[-32.3,5.1],[-45.4,6.4],[-56.4,7.3],[-65.2,8.6],[-67.3,11.3],[-63,13.1],[-52,14.4],[-38.9,13.9],[-27.9,12.2],[-19.1,9.5],[-10.4,7.7],[-1.6,7.3],[13.7,7.7],[26.8,8.6],[35.6,9.5],[44.4,10.8],[50.9,12.6],[59.7,13.5],[68.4,13.5],[78,13.3],[82,10],[78,6.6],[66.3,5.1],[59.7,3.3],[55.3,-0.3]]],
  ["magenta",0,[[-22,-0.3],[-25,3],[-33,5.5],[-47.6,7.3],[-34.5,9.5],[-25.7,11.7],[-16.9,13],[-6,13.7],[4.9,13.5],[11.5,11.7],[13.7,9.5],[18.1,8.2],[31.2,7.7],[48.8,7.9],[55.3,6.9],[55.3,4.2],[53.1,1.5],[50.9,-0.3]]],
  ["magenta",1,[[-6,6.4],[0.5,6.9],[9.3,6.4],[7.1,5.5],[-1.6,5.5]]],
  ["green",0,[[-23.5,-0.3],[-22,3.5],[-17,5.2],[0,5.6],[25,5.7],[45,5.3],[55,4],[57.5,1.5],[55.3,-0.3]]],
  ["navy",0,[[-20,-0.3],[-19,3.5],[-14,4.8],[10,5],[35,4.9],[46,4],[48,2],[48,-0.3]]],
  ["red",0,[[-19,-0.3],[-18,3],[-12,4.3],[15,4.6],[38,4.4],[46,3],[47,-0.3]]],
  ["green",0,[[-18,-0.3],[-16,2.8],[-8,4.2],[20,4.4],[42,4],[49,2],[50,-0.3]]],
  ["magenta",0,[[-10,-0.3],[-6.8,1.75],[14,3.5],[34.8,1.75],[38,-0.3]]],
  ["navy",0,[[-8,-0.3],[-5,1.5],[14,3],[33,1.5],[36,-0.3]]],
  ["red",0,[[-5,-0.3],[-2.7,1.3],[12.5,2.6],[27.7,1.3],[30,-0.3]]],
  ["green",0,[[-2,-0.3],[0.1,1.1],[14,2.2],[27.9,1.1],[30,-0.3]]],
  ["magenta",0,[[3,-0.3],[4.5,0.8],[14.5,1.6],[24.5,0.8],[26,-0.3]]]
];
const cont_MADM50 = [
  ["red",0,[[-17.8,-0.3],[-18.5,2.4],[-14.5,4.6],[-1.4,6.4],[13.8,6.9],[31.3,7.1],[42.2,6.9],[44.4,4.2],[42.2,1.5],[43.3,-0.3]]],
  ["magenta",0,[[-8,-0.3],[-10.2,2.4],[-1.4,5.1],[13.8,6.2],[31.3,7.1],[48.8,7.1],[55.3,6.9],[53.1,5.1],[44.4,2.9],[35.7,1.5],[31.3,-0.3]]],
  ["red",0,[[-13.4,-0.3],[-12.3,2.4],[-3.6,4.2],[11.7,4.9],[27,4.2],[33.5,2],[32.4,-0.3]]],
  ["green",0,[[-5.8,-0.3],[-3.6,2.4],[7.3,3.8],[22.6,4],[33.5,2.4],[34.6,-0.3]]],
  ["navy",0,[[-4,-0.3],[-1.7,1.6],[13,3.2],[27.7,1.6],[30,-0.3]]],
  ["green",0,[[-2,-0.3],[0,1.4],[13,2.8],[26,1.4],[28,-0.3]]],
  ["magenta",0,[[1,-0.3],[2.6,1.1],[13,2.2],[23.4,1.1],[25,-0.3]]],
  ["green",0,[[4,-0.3],[5.2,0.8],[13,1.6],[20.8,0.8],[22,-0.3]]],
  ["navy",0,[[7,-0.3],[7.8,0.5],[13,1],[18.2,0.5],[19,-0.3]]]
];

// ---------- lookup tables built from the arrays above ----------
const scatter = {
  MADP10: {red: red_MADP10, green: green_MADP10, magenta: magenta_MADP10, navy: navy_MADP10, core: core_MADP10},
  MADO10: {red: red_MADO10, green: green_MADO10, magenta: magenta_MADO10, navy: navy_MADO10, core: core_MADO10},
  MADM10: {red: red_MADM10, green: green_MADM10, magenta: magenta_MADM10, navy: navy_MADM10, core: core_MADM10},
  MADP30: {red: red_MADP30, green: green_MADP30, magenta: magenta_MADP30, navy: navy_MADP30, core: core_MADP30},
  MADO30: {red: red_MADO30, green: green_MADO30, magenta: magenta_MADO30, navy: navy_MADO30, core: core_MADO30},
  MADM30: {red: red_MADM30, green: green_MADM30, magenta: magenta_MADM30, navy: navy_MADM30, core: core_MADM30},
  MADP50: {red: red_MADP50, green: green_MADP50, magenta: magenta_MADP50, navy: navy_MADP50, core: core_MADP50},
  MADO50: {red: red_MADO50, green: green_MADO50, magenta: magenta_MADO50, navy: navy_MADO50, core: core_MADO50},
  MADM50: {red: red_MADM50, green: green_MADM50, magenta: magenta_MADM50, navy: navy_MADM50, core: core_MADM50}
};
const hLines = {MADP10: hl_MADP10, MADO10: hl_MADO10, MADM10: hl_MADM10, MADP30: hl_MADP30, MADO30: hl_MADO30, MADM30: hl_MADM30, MADP50: hl_MADP50, MADO50: hl_MADO50, MADM50: hl_MADM50};
const vLines = {MADP10: vl_MADP10, MADO10: vl_MADO10, MADM10: vl_MADM10, MADP30: vl_MADP30, MADO30: vl_MADO30, MADM30: vl_MADM30, MADP50: vl_MADP50, MADO50: vl_MADO50, MADM50: vl_MADM50};
const contours = {MADP10: cont_MADP10, MADO10: cont_MADO10, MADM10: cont_MADM10, MADP30: cont_MADP30, MADO30: cont_MADO30, MADM30: cont_MADM30, MADP50: cont_MADP50, MADO50: cont_MADO50, MADM50: cont_MADM50};

// ---------- layout & style ----------
const colorRange = ["#ff0000", "#ff00ff", "#008000", "#000080"];
const W = 230, H = 226;
const frameX = [43, 318, 592];
const frameY = [19, 292, 565];
const mL = 43, mR = 12, mT = 20, mB = 42;
const fmt = d => d < 0 ? "\u2212" + Math.abs(d) : String(d);
const col = s => colorRange[seriesNames.indexOf(s)];
const fig = document.getElementById("fig");

function axes() {
  const blank = () => "";
  return [
    Plot.axisX({anchor: "bottom", ticks: xMajor, tickSize: 5, dy: -5, tickFormat: blank, label: null}),
    Plot.axisX({anchor: "bottom", ticks: xMinor, tickSize: 2.5, dy: -2.5, tickFormat: blank, label: null}),
    Plot.axisX({anchor: "top", ticks: xMajor, tickSize: 5, dy: 5, tickFormat: blank, label: null}),
    Plot.axisX({anchor: "top", ticks: xMinor, tickSize: 2.5, dy: 2.5, tickFormat: blank, label: null}),
    Plot.axisY({anchor: "left", ticks: yMajor, tickSize: 5, dx: 5, tickFormat: blank, label: null}),
    Plot.axisY({anchor: "left", ticks: yMinor, tickSize: 2.5, dx: 2.5, tickFormat: blank, label: null}),
    Plot.axisY({anchor: "right", ticks: yMajor, tickSize: 5, dx: -5, tickFormat: blank, label: null}),
    Plot.axisY({anchor: "right", ticks: yMinor, tickSize: 2.5, dx: -2.5, tickFormat: blank, label: null}),
    Plot.axisX({anchor: "bottom", ticks: xMajor, tickSize: 0, tickPadding: 8, tickFormat: fmt, label: null}),
    Plot.axisY({anchor: "left", ticks: yMajor, tickSize: 0, tickPadding: 4, dy: -2, tickFormat: fmt, label: null})
  ];
}

function makePanel(mi, ii) {
  const key = methods[mi] + incls[ii];
  const S = scatter[key];
  const rows = arr => arr.map(([x, y]) => ({x, y}));
  const hl = hLines[key].map((v, k) => ({v, s: seriesNames[k]}));
  const vl = vLines[key].map((v, k) => ({v, s: seriesNames[k]}));
  const openRows = [], closedRows = [];
  contours[key].forEach(([s, closed, pts], id) => {
    pts.forEach(([x, y]) => (closed ? closedRows : openRows).push({x, y, s, id}));
  });
  const dotOpt = (s, op) => ({x: "x", y: "y", fill: col(s), stroke: col(s), fillOpacity: op, strokeOpacity: op, strokeWidth: 1, clip: true});

  const marks = [
    Plot.rect([bandRange], {x1: d => d[0], x2: d => d[1], y1: () => yDomain[0], y2: () => yDomain[1], fill: "#2f4f4f", fillOpacity: 0.4, stroke: "#2f4f4f", strokeOpacity: 0.45}),
    Plot.ruleX([bandCenter], {stroke: "#2f4f4f", strokeWidth: 1.8, strokeDasharray: "7,4", strokeOpacity: 0.85}),
    Plot.dot(rows(S.red), {...dotOpt("red", 0.24), r: 5.5, symbol: "circle"}),
    Plot.dot(rows(S.green), {...dotOpt("green", 0.24), r: 5.5, symbol: "circle"}),
    Plot.dot(rows(S.magenta), {...dotOpt("magenta", 0.24), r: 4.8, symbol: "triangle", rotate: 180}),
    Plot.dot(rows(S.navy), {...dotOpt("navy", 0.25), r: 6, symbol: "square"}),
    Plot.dot(rows(S.core), {...dotOpt("navy", 0.7), r: 6, symbol: "square"}),
    Plot.ruleY(hl, {y: "v", stroke: "s", strokeWidth: 2.5, strokeOpacity: 0.55}),
    Plot.ruleY(hl, {y: "v", stroke: "black", strokeWidth: 1.3, strokeDasharray: "1.5,1.5", strokeOpacity: 0.7}),
    Plot.ruleX(vl, {x: "v", stroke: "s", strokeWidth: 2.5, strokeOpacity: 0.55}),
    Plot.ruleX(vl, {x: "v", stroke: "black", strokeWidth: 1.3, strokeDasharray: "1.5,1.5", strokeOpacity: 0.7}),
    Plot.ruleX([vBlack[key]], {stroke: "black", strokeWidth: 1.5}),
    Plot.line(openRows, {x: "x", y: "y", z: "id", stroke: "s", strokeWidth: 2, curve: "catmull-rom", clip: true}),
    Plot.line(closedRows, {x: "x", y: "y", z: "id", stroke: "s", strokeWidth: 2, curve: "catmull-rom-closed", clip: true}),
    Plot.frame({stroke: "black", strokeWidth: 1.2}),
    ...axes()
  ];
  if (mi === 0) marks.push(Plot.text(["RMSE"], {text: d => d, frameAnchor: "left", dx: -31, rotate: -90, fontSize: 15}));
  if (ii === 2) marks.push(Plot.text(["Slope A [min / cm]"], {text: d => d, frameAnchor: "bottom", dy: 33, fontSize: 15}));

  const svg = Plot.plot({
    width: mL + W + mR, height: mT + H + mB,
    marginLeft: mL, marginRight: mR, marginTop: mT, marginBottom: mB,
    x: {domain: xDomain}, y: {domain: yDomain},
    color: {domain: seriesNames, range: colorRange},
    style: {fontFamily: "'Liberation Serif','DejaVu Serif',serif", fontSize: "14px", background: "transparent", overflow: "visible", color: "black"},
    marks
  });
  svg.style.position = "absolute";
  svg.style.left = (frameX[mi] - mL) + "px";
  svg.style.top = (frameY[ii] - mT) + "px";
  fig.appendChild(svg);

  const t = document.createElement("div");
  t.className = "ttl";
  t.style.left = frameX[mi] + "px";
  t.style.width = W + "px";
  t.style.top = (frameY[ii] - 20) + "px";
  t.innerHTML = `<span class="tt">${methods[mi]}</span>, <i>i</i> = ${incls[ii]}°`;
  fig.appendChild(t);
}

for (let ii = 0; ii < incls.length; ii++)
  for (let mi = 0; mi < methods.length; mi++) makePanel(mi, ii);
</script></body></html>
